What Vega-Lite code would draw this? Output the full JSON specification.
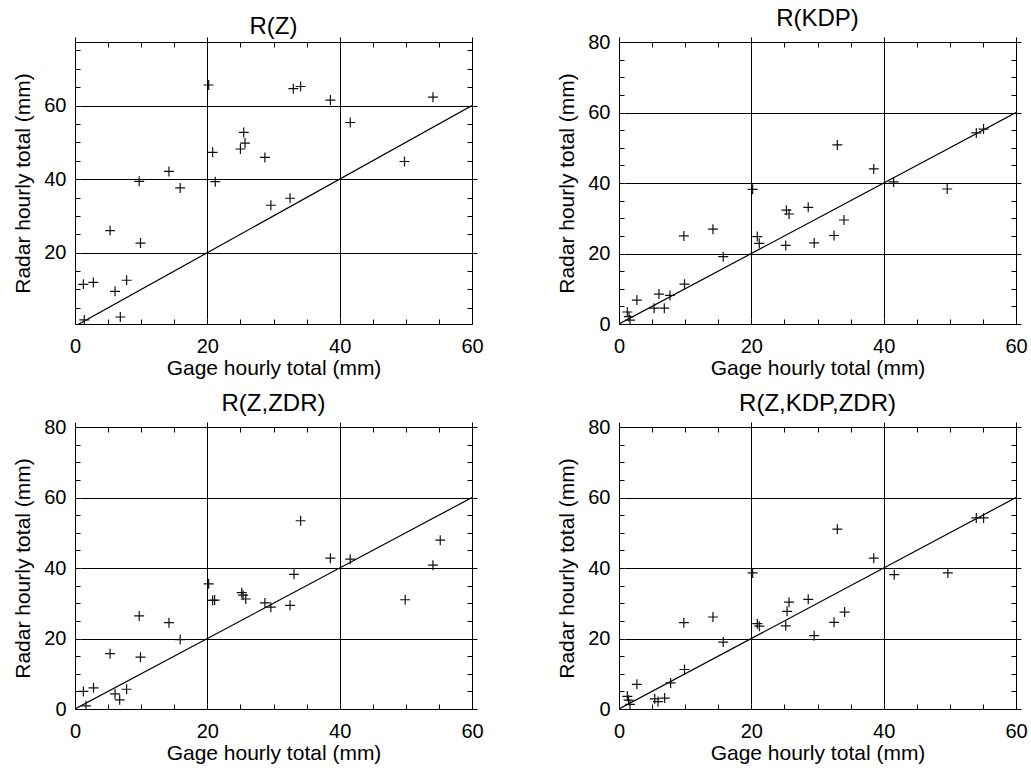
{
  "$schema": "https://vega.github.io/schema/vega-lite/v6.json",
  "padding": {"left": 12, "top": 6, "right": 5, "bottom": 0},
  "background": "white",
  "config": {
    "font": "Liberation Sans",
    "view": {"stroke": "black", "strokeWidth": 1},
    "title": {"fontSize": 24, "fontWeight": "normal", "color": "black", "offset": 1, "frame": "group", "anchor": "middle"},
    "axis": {
      "labelFontSize": 20, "titleFontSize": 21, "titleFontWeight": "normal",
      "labelColor": "black", "titleColor": "black", "tickColor": "black",
      "domainColor": "black", "gridColor": "black", "gridWidth": 1,
      "tickSize": 5, "tickWidth": 1, "offset": -5, "labelFlush": false, "labelOverlap": false
    }
  },
  "datasets": {
    "diag": [{"gage": 0, "radar": 0}, {"gage": 60, "radar": 60}],
    "rz": [
      {"gage": 1.26, "radar": 11.4}, {"gage": 2.77, "radar": 11.9}, {"gage": 1.4, "radar": 1.7},
      {"gage": 5.3, "radar": 26.0}, {"gage": 6.05, "radar": 9.5}, {"gage": 6.85, "radar": 2.5},
      {"gage": 7.8, "radar": 12.5}, {"gage": 9.7, "radar": 39.4}, {"gage": 9.9, "radar": 22.6},
      {"gage": 14.2, "radar": 42.1}, {"gage": 15.9, "radar": 37.6}, {"gage": 20.2, "radar": 65.6},
      {"gage": 20.8, "radar": 47.3}, {"gage": 21.2, "radar": 39.3}, {"gage": 25.0, "radar": 48.2},
      {"gage": 25.5, "radar": 52.7}, {"gage": 25.7, "radar": 49.8}, {"gage": 28.7, "radar": 45.9},
      {"gage": 29.6, "radar": 32.9}, {"gage": 32.5, "radar": 34.8}, {"gage": 33.0, "radar": 64.6},
      {"gage": 34.1, "radar": 65.2}, {"gage": 38.6, "radar": 61.5}, {"gage": 41.6, "radar": 55.4},
      {"gage": 49.8, "radar": 44.8}, {"gage": 54.1, "radar": 62.3}
    ],
    "rkdp": [
      {"gage": 1.25, "radar": 3.4}, {"gage": 1.5, "radar": 2.1}, {"gage": 1.66, "radar": 1.1},
      {"gage": 2.7, "radar": 6.8}, {"gage": 5.3, "radar": 4.5}, {"gage": 6.04, "radar": 8.5},
      {"gage": 6.85, "radar": 4.5}, {"gage": 7.7, "radar": 8.1}, {"gage": 9.8, "radar": 25.0},
      {"gage": 9.9, "radar": 11.3}, {"gage": 14.2, "radar": 26.9}, {"gage": 15.75, "radar": 19.1},
      {"gage": 20.2, "radar": 38.2}, {"gage": 20.9, "radar": 24.8}, {"gage": 21.2, "radar": 22.9},
      {"gage": 25.2, "radar": 22.3}, {"gage": 25.3, "radar": 32.3}, {"gage": 25.7, "radar": 31.2},
      {"gage": 28.6, "radar": 33.1}, {"gage": 29.5, "radar": 23.0}, {"gage": 32.5, "radar": 25.1},
      {"gage": 33.0, "radar": 50.8}, {"gage": 34.0, "radar": 29.5}, {"gage": 38.5, "radar": 44.0},
      {"gage": 41.5, "radar": 40.3}, {"gage": 49.6, "radar": 38.3}, {"gage": 54.0, "radar": 54.2},
      {"gage": 55.1, "radar": 55.3}
    ],
    "rzzdr": [
      {"gage": 1.26, "radar": 5.0}, {"gage": 2.8, "radar": 6.0}, {"gage": 1.66, "radar": 0.9},
      {"gage": 5.3, "radar": 15.7}, {"gage": 6.05, "radar": 4.3}, {"gage": 6.75, "radar": 2.6},
      {"gage": 7.8, "radar": 5.6}, {"gage": 9.7, "radar": 26.4}, {"gage": 9.9, "radar": 14.7},
      {"gage": 14.2, "radar": 24.5}, {"gage": 15.9, "radar": 19.7}, {"gage": 20.2, "radar": 35.5},
      {"gage": 20.8, "radar": 30.8}, {"gage": 21.1, "radar": 30.9}, {"gage": 25.2, "radar": 33.0},
      {"gage": 25.4, "radar": 32.3}, {"gage": 25.8, "radar": 31.2}, {"gage": 28.7, "radar": 30.1},
      {"gage": 29.6, "radar": 28.9}, {"gage": 32.5, "radar": 29.4}, {"gage": 33.1, "radar": 38.2},
      {"gage": 34.1, "radar": 53.4}, {"gage": 38.6, "radar": 42.8}, {"gage": 41.6, "radar": 42.5},
      {"gage": 49.9, "radar": 31.0}, {"gage": 54.1, "radar": 40.8}, {"gage": 55.2, "radar": 47.9}
    ],
    "rzkz": [
      {"gage": 1.26, "radar": 3.6}, {"gage": 1.45, "radar": 2.5}, {"gage": 1.66, "radar": 1.3},
      {"gage": 2.7, "radar": 7.0}, {"gage": 5.4, "radar": 2.9}, {"gage": 5.9, "radar": 2.1},
      {"gage": 6.9, "radar": 3.1}, {"gage": 7.8, "radar": 7.4}, {"gage": 9.8, "radar": 24.5},
      {"gage": 9.9, "radar": 11.2}, {"gage": 14.2, "radar": 26.1}, {"gage": 15.75, "radar": 19.0},
      {"gage": 20.2, "radar": 38.6}, {"gage": 20.9, "radar": 24.2}, {"gage": 21.2, "radar": 23.5},
      {"gage": 25.2, "radar": 23.6}, {"gage": 25.4, "radar": 27.7}, {"gage": 25.7, "radar": 30.3},
      {"gage": 28.6, "radar": 31.1}, {"gage": 29.5, "radar": 20.8}, {"gage": 32.5, "radar": 24.6},
      {"gage": 33.0, "radar": 51.0}, {"gage": 34.1, "radar": 27.5}, {"gage": 38.5, "radar": 42.8},
      {"gage": 41.6, "radar": 38.1}, {"gage": 49.7, "radar": 38.6}, {"gage": 54.0, "radar": 54.2},
      {"gage": 55.1, "radar": 54.2}
    ]
  },
  "spacing": 12,
  "vconcat": [
    {
      "spacing": 72,
      "hconcat": [
        {
          "title": "R(Z)",
          "width": 397, "height": 282,
          "resolve": {"axis": {"x": "independent", "y": "independent"}},
          "layer": [
            {
              "data": {"name": "diag"},
              "mark": {"type": "line", "color": "black", "strokeWidth": 1.2, "clip": true},
              "encoding": {
                "x": {"field": "gage", "type": "quantitative", "scale": {"domain": [0, 60], "nice": false, "zero": false},
                      "axis": {"orient": "top", "values": [0,5,10,15,20,25,30,35,40,45,50,55,60], "labels": false, "title": null, "domain": false, "grid": false}},
                "y": {"field": "radar", "type": "quantitative", "scale": {"domain": [0.6, 77.3], "nice": false, "zero": false},
                      "axis": {"orient": "right", "values": [5,10,15,20,25,30,35,40,45,50,55,60,65,70,75], "labels": false, "title": null, "domain": false, "grid": false}}
              }
            },
            {
              "data": {"name": "rz"},
              "mark": {"type": "point", "shape": "M-1,0L1,0M0,-1L0,1", "filled": false, "stroke": "#111", "strokeWidth": 1.2, "size": 100, "opacity": 1, "clip": true},
              "encoding": {
                "x": {"field": "gage", "type": "quantitative", "scale": {"domain": [0, 60], "nice": false, "zero": false},
                      "axis": {"orient": "bottom", "values": [0,5,10,15,20,25,30,35,40,45,50,55,60], "labelExpr": "datum.value % 20 === 0 ? datum.label : ''", "labelPadding": 12, "title": "Gage hourly total (mm)", "titlePadding": 1, "domain": false,
                               "grid": true, "gridOpacity": {"condition": {"test": "datum.value % 20 === 0", "value": 1}, "value": 0}}},
                "y": {"field": "radar", "type": "quantitative", "scale": {"domain": [0.6, 77.3], "nice": false, "zero": false},
                      "axis": {"orient": "left", "values": [5,10,15,20,25,30,35,40,45,50,55,60,65,70,75], "labelExpr": "datum.value % 20 === 0 ? datum.label : ''", "labelPadding": 9, "title": "Radar hourly total (mm)", "titlePadding": 10, "domain": false,
                               "grid": true, "gridOpacity": {"condition": {"test": "datum.value % 20 === 0", "value": 1}, "value": 0}}}
              }
            }
          ]
        },
        {
          "title": "R(KDP)",
          "width": 397, "height": 282,
          "resolve": {"axis": {"x": "independent", "y": "independent"}},
          "layer": [
            {
              "data": {"name": "diag"},
              "mark": {"type": "line", "color": "black", "strokeWidth": 1.2, "clip": true},
              "encoding": {
                "x": {"field": "gage", "type": "quantitative", "scale": {"domain": [0, 60], "nice": false, "zero": false},
                      "axis": {"orient": "top", "values": [0,5,10,15,20,25,30,35,40,45,50,55,60], "labels": false, "title": null, "domain": false, "grid": false}},
                "y": {"field": "radar", "type": "quantitative", "scale": {"domain": [0, 80], "nice": false, "zero": false},
                      "axis": {"orient": "right", "values": [0,5,10,15,20,25,30,35,40,45,50,55,60,65,70,75,80], "labels": false, "title": null, "domain": false, "grid": false}}
              }
            },
            {
              "data": {"name": "rkdp"},
              "mark": {"type": "point", "shape": "M-1,0L1,0M0,-1L0,1", "filled": false, "stroke": "#111", "strokeWidth": 1.2, "size": 100, "opacity": 1, "clip": true},
              "encoding": {
                "x": {"field": "gage", "type": "quantitative", "scale": {"domain": [0, 60], "nice": false, "zero": false},
                      "axis": {"orient": "bottom", "values": [0,5,10,15,20,25,30,35,40,45,50,55,60], "labelExpr": "datum.value % 20 === 0 ? datum.label : ''", "labelPadding": 12, "title": "Gage hourly total (mm)", "titlePadding": 1, "domain": false,
                               "grid": true, "gridOpacity": {"condition": {"test": "datum.value % 20 === 0", "value": 1}, "value": 0}}},
                "y": {"field": "radar", "type": "quantitative", "scale": {"domain": [0, 80], "nice": false, "zero": false},
                      "axis": {"orient": "left", "values": [0,5,10,15,20,25,30,35,40,45,50,55,60,65,70,75,80], "labelExpr": "datum.value % 20 === 0 ? datum.label : ''", "labelPadding": 9, "title": "Radar hourly total (mm)", "titlePadding": 10, "domain": false,
                               "grid": true, "gridOpacity": {"condition": {"test": "datum.value % 20 === 0", "value": 1}, "value": 0}}}
              }
            }
          ]
        }
      ]
    },
    {
      "spacing": 72,
      "hconcat": [
        {
          "title": "R(Z,ZDR)",
          "width": 397, "height": 282,
          "resolve": {"axis": {"x": "independent", "y": "independent"}},
          "layer": [
            {
              "data": {"name": "diag"},
              "mark": {"type": "line", "color": "black", "strokeWidth": 1.2, "clip": true},
              "encoding": {
                "x": {"field": "gage", "type": "quantitative", "scale": {"domain": [0, 60], "nice": false, "zero": false},
                      "axis": {"orient": "top", "values": [0,5,10,15,20,25,30,35,40,45,50,55,60], "labels": false, "title": null, "domain": false, "grid": false}},
                "y": {"field": "radar", "type": "quantitative", "scale": {"domain": [0, 80], "nice": false, "zero": false},
                      "axis": {"orient": "right", "values": [0,5,10,15,20,25,30,35,40,45,50,55,60,65,70,75,80], "labels": false, "title": null, "domain": false, "grid": false}}
              }
            },
            {
              "data": {"name": "rzzdr"},
              "mark": {"type": "point", "shape": "M-1,0L1,0M0,-1L0,1", "filled": false, "stroke": "#111", "strokeWidth": 1.2, "size": 100, "opacity": 1, "clip": true},
              "encoding": {
                "x": {"field": "gage", "type": "quantitative", "scale": {"domain": [0, 60], "nice": false, "zero": false},
                      "axis": {"orient": "bottom", "values": [0,5,10,15,20,25,30,35,40,45,50,55,60], "labelExpr": "datum.value % 20 === 0 ? datum.label : ''", "labelPadding": 12, "title": "Gage hourly total (mm)", "titlePadding": 1, "domain": false,
                               "grid": true, "gridOpacity": {"condition": {"test": "datum.value % 20 === 0", "value": 1}, "value": 0}}},
                "y": {"field": "radar", "type": "quantitative", "scale": {"domain": [0, 80], "nice": false, "zero": false},
                      "axis": {"orient": "left", "values": [0,5,10,15,20,25,30,35,40,45,50,55,60,65,70,75,80], "labelExpr": "datum.value % 20 === 0 ? datum.label : ''", "labelPadding": 9, "title": "Radar hourly total (mm)", "titlePadding": 10, "domain": false,
                               "grid": true, "gridOpacity": {"condition": {"test": "datum.value % 20 === 0", "value": 1}, "value": 0}}}
              }
            }
          ]
        },
        {
          "title": "R(Z,KDP,ZDR)",
          "width": 397, "height": 282,
          "resolve": {"axis": {"x": "independent", "y": "independent"}},
          "layer": [
            {
              "data": {"name": "diag"},
              "mark": {"type": "line", "color": "black", "strokeWidth": 1.2, "clip": true},
              "encoding": {
                "x": {"field": "gage", "type": "quantitative", "scale": {"domain": [0, 60], "nice": false, "zero": false},
                      "axis": {"orient": "top", "values": [0,5,10,15,20,25,30,35,40,45,50,55,60], "labels": false, "title": null, "domain": false, "grid": false}},
                "y": {"field": "radar", "type": "quantitative", "scale": {"domain": [0, 80], "nice": false, "zero": false},
                      "axis": {"orient": "right", "values": [0,5,10,15,20,25,30,35,40,45,50,55,60,65,70,75,80], "labels": false, "title": null, "domain": false, "grid": false}}
              }
            },
            {
              "data": {"name": "rzkz"},
              "mark": {"type": "point", "shape": "M-1,0L1,0M0,-1L0,1", "filled": false, "stroke": "#111", "strokeWidth": 1.2, "size": 100, "opacity": 1, "clip": true},
              "encoding": {
                "x": {"field": "gage", "type": "quantitative", "scale": {"domain": [0, 60], "nice": false, "zero": false},
                      "axis": {"orient": "bottom", "values": [0,5,10,15,20,25,30,35,40,45,50,55,60], "labelExpr": "datum.value % 20 === 0 ? datum.label : ''", "labelPadding": 12, "title": "Gage hourly total (mm)", "titlePadding": 1, "domain": false,
                               "grid": true, "gridOpacity": {"condition": {"test": "datum.value % 20 === 0", "value": 1}, "value": 0}}},
                "y": {"field": "radar", "type": "quantitative", "scale": {"domain": [0, 80], "nice": false, "zero": false},
                      "axis": {"orient": "left", "values": [0,5,10,15,20,25,30,35,40,45,50,55,60,65,70,75,80], "labelExpr": "datum.value % 20 === 0 ? datum.label : ''", "labelPadding": 9, "title": "Radar hourly total (mm)", "titlePadding": 10, "domain": false,
                               "grid": true, "gridOpacity": {"condition": {"test": "datum.value % 20 === 0", "value": 1}, "value": 0}}}
              }
            }
          ]
        }
      ]
    }
  ]
}
